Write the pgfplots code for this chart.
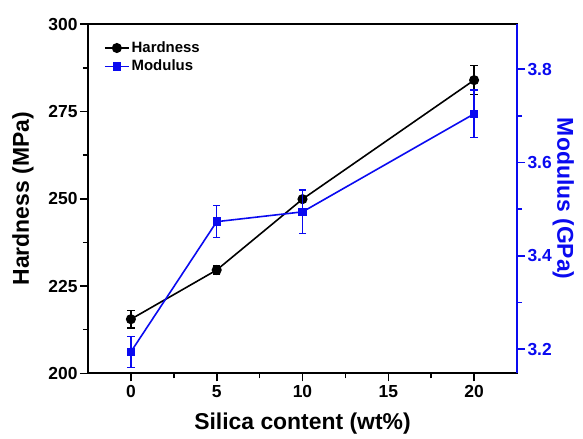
\documentclass[border=0pt]{standalone}
\usepackage{fontspec}
\setmainfont{Liberation Sans}
\usepackage{pgfplots}
\pgfplotsset{compat=1.18}
\definecolor{myblue}{RGB}{10,10,240}
\begin{document}
\begin{tikzpicture}[x=1bp,y=1bp]
\path[use as bounding box] (-88bp,-65.7bp) rectangle (495bp,373.3bp);
\begin{axis}[
  at={(0,0)}, anchor=south west,
  scale only axis, width=429bp, height=349bp,
  xmin=-2.5, xmax=22.5, ymin=200, ymax=300,
  xtick={0,5,10,15,20}, minor x tick num=1,
  ytick={200,225,250,275,300}, minor y tick num=1,
  tick align=outside, xtick pos=bottom, ytick pos=left,
  major tick length=8bp, minor tick length=5bp,
  every tick/.style={black, line width=1.6bp},
  axis line style={line width=2bp},
  /pgf/number format/assume math mode=true,
  ticklabel style={font=\fontsize{17.5}{20}\selectfont\bfseries},
  xticklabel style={yshift=-1bp},
  yticklabel style={xshift=1bp},
  xlabel={Silica content (wt\%)}, ylabel={Hardness (MPa)},
  label style={font=\fontsize{23}{26}\selectfont\bfseries},
  xlabel style={yshift=-8bp},
  ylabel style={yshift=8bp},
  legend style={draw=none, fill=none, at={(0.037,0.956)}, anchor=north west,
    font=\fontsize{15}{18}\selectfont\bfseries, row sep=2bp,
    inner sep=0pt},
  legend cell align=left,
  legend image code/.code={
    \draw[#1] (0bp,0bp) -- (24bp,0bp);
    \draw[#1, only marks] plot coordinates {(12bp,0bp)};
  },
]
\addplot[black, line width=1.6bp, mark=*, mark size=4.2bp,
  error bars/.cd, y dir=both, y explicit,
  error bar style={line width=1.4bp}, error mark options={rotate=90, mark size=3.7bp, line width=1.4bp}]
  coordinates {
  (0,215.5) +- (0,2.5)
  (5,229.6) +- (0,1.2)
  (10,249.9) +- (0,2.8)
  (20,284.0) +- (0,4.2)
};
\addlegendentry{Hardness}
\addlegendimage{myblue, line width=1.6bp, mark=square*, mark size=3.4bp}
\addlegendentry{Modulus}
\end{axis}
\begin{axis}[
  at={(0,0)}, anchor=south west,
  scale only axis, width=429bp, height=349bp,
  xmin=-2.5, xmax=22.5, ymin=3.148, ymax=3.896,
  axis x line=none,
  axis y line*=right,
  ytick={3.2,3.4,3.6,3.8}, minor ytick={3.3,3.5,3.7},
  tick align=outside,
  major tick length=8bp, minor tick length=5bp,
  every tick/.style={myblue, line width=1.6bp},
  y axis line style={myblue, line width=2bp, -},
  /pgf/number format/assume math mode=true,
  /pgf/number format/fixed, /pgf/number format/fixed zerofill, /pgf/number format/precision=1,
  yticklabel style={myblue, font=\fontsize{17.5}{20}\selectfont\bfseries, xshift=-1bp},
  ylabel={Modulus (GPa)},
  ylabel style={myblue, font=\fontsize{23}{26}\selectfont\bfseries, rotate=180, yshift=-6bp},
]
\addplot[myblue, line width=1.6bp, mark=square*, mark size=3.4bp,
  error bars/.cd, y dir=both, y explicit,
  error bar style={line width=1.4bp}, error mark options={rotate=90, mark size=3.7bp, line width=1.4bp}]
  coordinates {
  (0,3.194) +- (0,0.033)
  (5,3.473) +- (0,0.034)
  (10,3.494) +- (0,0.047)
  (20,3.704) +- (0,0.051)
};
\end{axis}
\end{tikzpicture}
\end{document}
